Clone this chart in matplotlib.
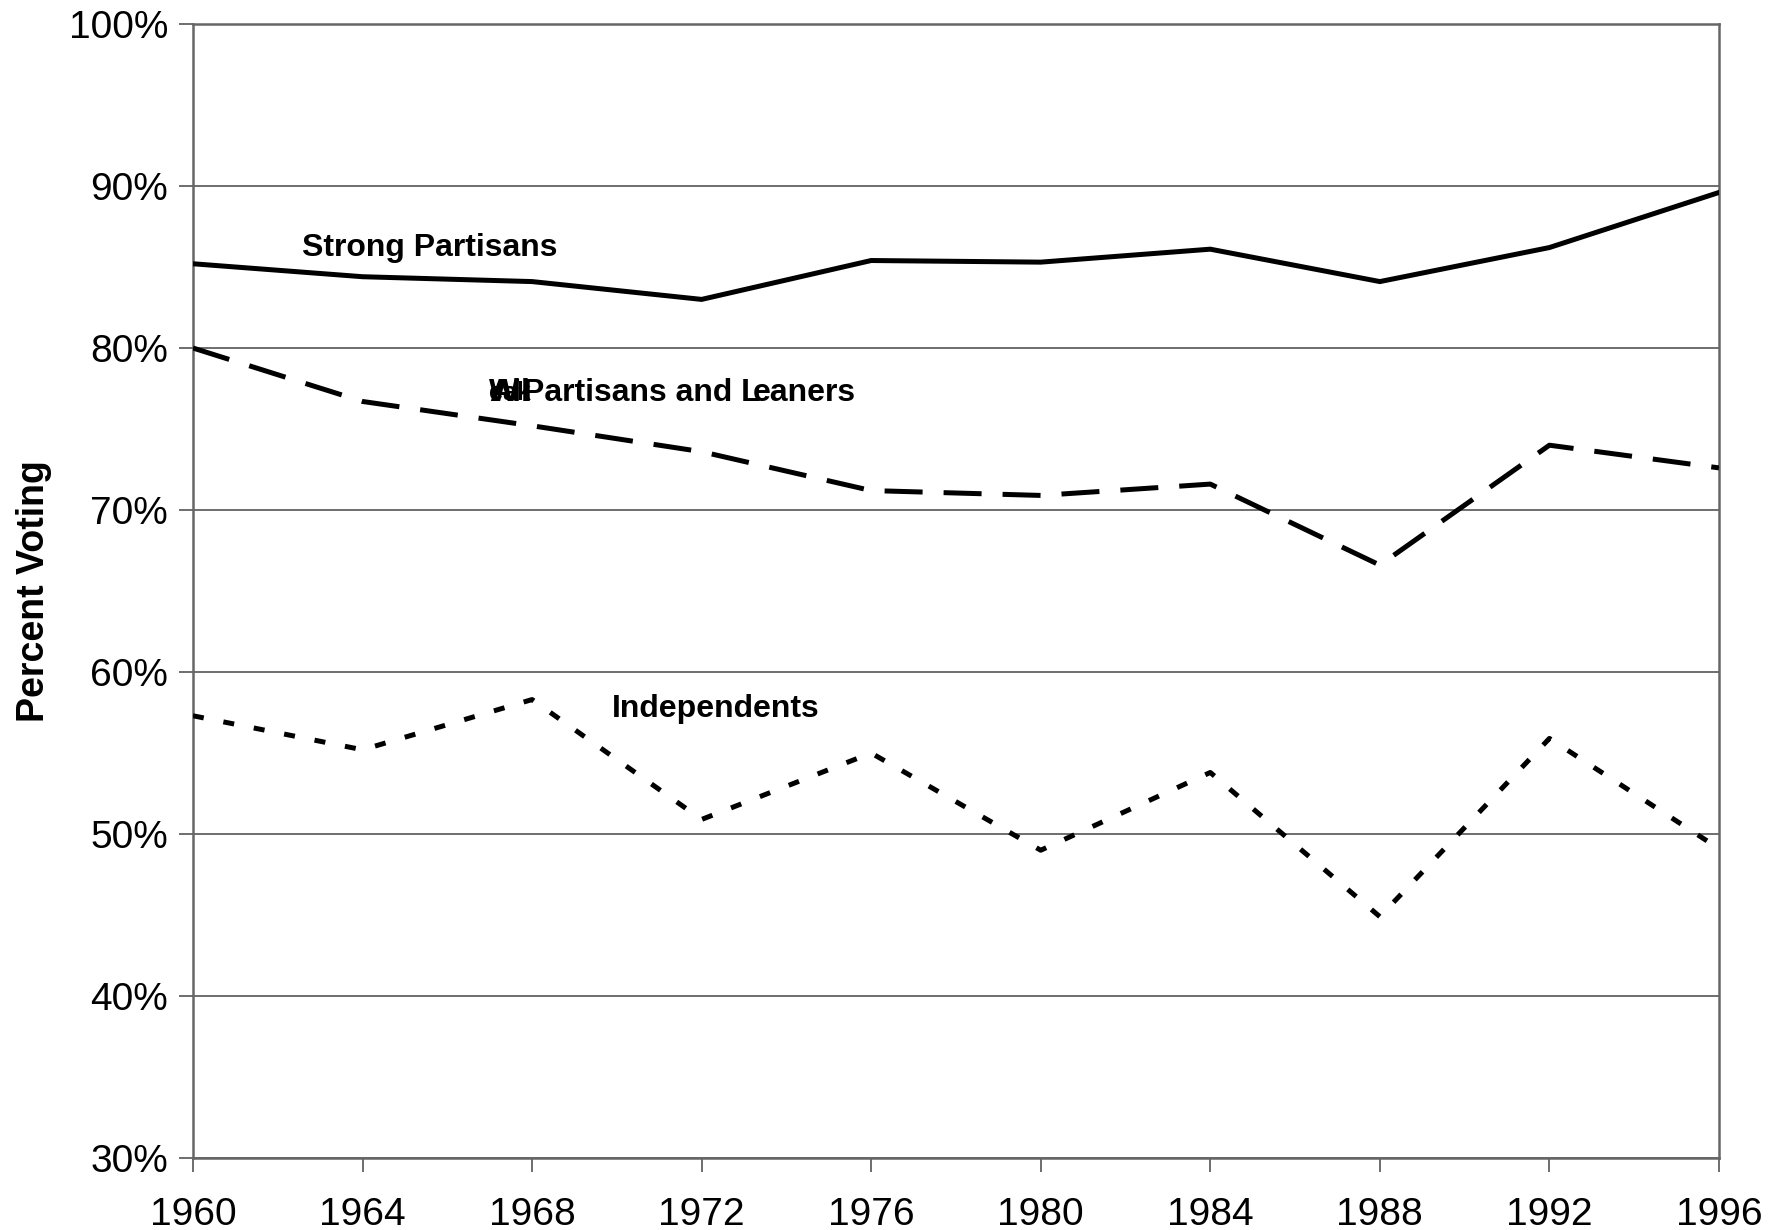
import matplotlib.pyplot as plt

plt.rcParams['font.family'] = ['Liberation Sans', 'DejaVu Sans']

# data
years = [1960, 1964, 1968, 1972, 1976, 1980, 1984, 1988, 1992, 1996]
strong = [85.2, 84.4, 84.1, 83.0, 85.4, 85.3, 86.1, 84.1, 86.2, 89.6]
leaners = [80.0, 76.7, 75.2, 73.6, 71.2, 70.9, 71.6, 66.6, 74.0, 72.6]
independents = [57.3, 55.2, 58.3, 50.9, 55.0, 49.0, 53.8, 44.9, 55.9, 49.1]
yticks = [30, 40, 50, 60, 70, 80, 90, 100]

fig = plt.figure(figsize=(17.8, 12.3), dpi=100)
ax = fig.add_axes([0.1084, 0.0585, 0.8573, 0.922])

for y in yticks:
    ax.axhline(y, color='#555555', lw=1.2, zorder=1)

ax.plot(years, strong, color='black', lw=3.6, solid_joinstyle='miter', zorder=3)
ax.plot(years, leaners, color='black', lw=3.6, dashes=(7.6, 4.2), zorder=3)
ax.plot(years, independents, color='black', lw=3.6, dashes=(2.2, 4.0), zorder=3)

# series labels (the middle one is garbled/overprinted in the original)
lab = dict(fontsize=23, fontweight='bold', va='center', ha='left')
ax.text(1962.57, 86.2, 'Strong Partisans', **lab)
ax.text(1966.98, 77.22, 'W', **lab)
ax.text(1966.98, 77.22, 'All', **lab)
ax.text(1966.98, 77.22, 'eak', fontsize=18, fontweight='bold', va='center', ha='left')
ax.text(1967.78, 77.22, 'Partisans and L', **lab)
ax.text(1973.21, 77.22, 'eaners', **lab)
ax.text(1969.88, 57.7, 'Independents', **lab)

ax.set_xlim(1960, 1996)
ax.set_ylim(30, 100)
ax.set_xticks(years)
ax.set_yticks(yticks)
ax.set_yticklabels([f'{v}%' for v in yticks])
ax.tick_params(axis='both', labelsize=28, direction='out', length=10, width=1.2,
               color='#555555', pad=8)
ax.tick_params(axis='x', pad=18)
for s in ax.spines.values():
    s.set_color('#666666')
    s.set_linewidth(1.8)
ax.set_ylabel('Percent Voting', fontsize=27, fontweight='bold', labelpad=12)

fig.savefig('out.png', dpi=100)
